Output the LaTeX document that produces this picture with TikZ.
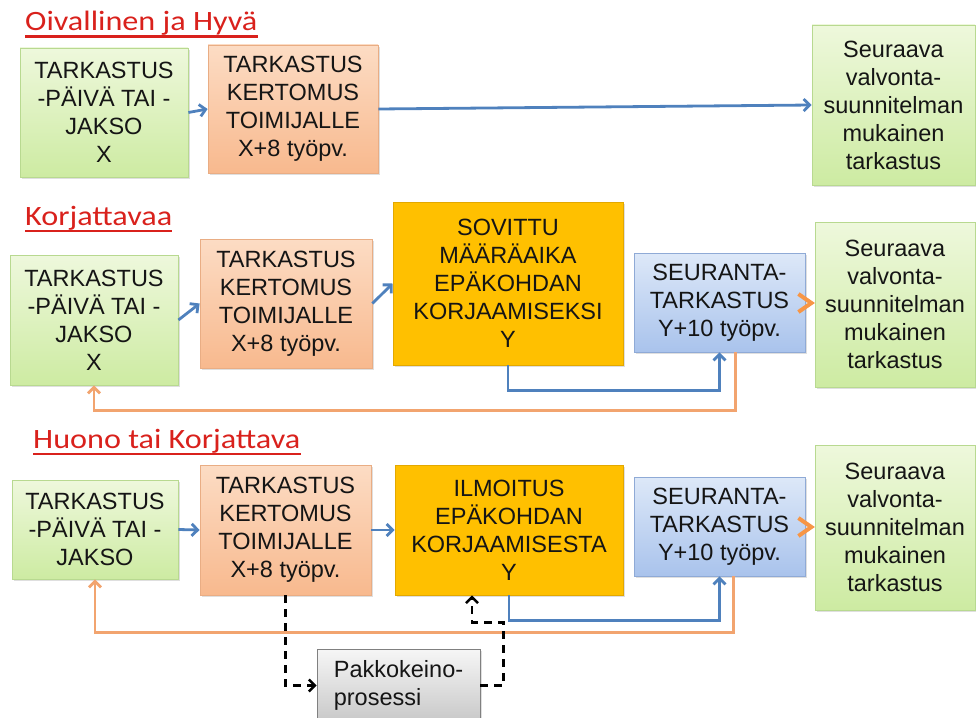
\documentclass[tikz,border=0pt]{standalone}
\usepackage{fontspec}
\setmainfont{Liberation Sans}
\newfontfamily\titlefont[FakeStretch=1.15]{Carlito}
\usetikzlibrary{arrows.meta,shadows,calc}
\definecolor{txt}{HTML}{151515}
\definecolor{titlered}{HTML}{D9211C}
\definecolor{grtop}{HTML}{EEF8DC}
\definecolor{grbot}{HTML}{CDEBA2}
\definecolor{grbord}{HTML}{B8D990}
\definecolor{ortop}{HTML}{FCDCC4}
\definecolor{orbot}{HTML}{F8B98E}
\definecolor{orbord}{HTML}{E9AD84}
\definecolor{gold}{HTML}{FFC000}
\definecolor{goldbord}{HTML}{E3A800}
\definecolor{bltop}{HTML}{DDE8F8}
\definecolor{blbot}{HTML}{A9C3EC}
\definecolor{blbord}{HTML}{8FAAD6}
\definecolor{gytop}{HTML}{F6F6F6}
\definecolor{gybot}{HTML}{C8C8C8}
\definecolor{gybord}{HTML}{808080}
\definecolor{blueline}{HTML}{4F81BD}
\definecolor{orangeline}{HTML}{F2A46F}
\definecolor{chev}{HTML}{F79646}
\tikzset{
  boxbase/.style={rectangle, inner sep=2pt, align=center, text=txt,
    font=\fontsize{23.5}{28}\selectfont, line width=0.8pt,
    drop shadow={opacity=0.25, shadow xshift=2pt, shadow yshift=-2pt}},
  greenbox/.style={boxbase, draw=grbord, top color=grtop, bottom color=grbot},
  orangebox/.style={boxbase, draw=orbord, top color=ortop, bottom color=orbot},
  goldbox/.style={boxbase, draw=goldbord, fill=gold},
  bluebox/.style={boxbase, draw=blbord, top color=bltop, bottom color=blbot},
  graybox/.style={boxbase, draw=gybord, top color=gytop, bottom color=gybot, align=left},
  titletext/.style={anchor=base west, inner sep=0pt, text=titlered,
    font=\titlefont\fontsize{28}{32}\selectfont},
  uline/.style={draw=titlered, line width=2.4pt},
  barrow/.style={draw=blueline, line width=2.8pt, -{Straight Barb[length=6pt,width=12pt]}},
  oarrow/.style={draw=orangeline, line width=2.8pt, -{Straight Barb[length=6pt,width=12pt]}},
  chevron/.style={draw=chev, line width=4pt},
  darrow/.style={draw=black, line width=2.5pt, dash pattern=on 8pt off 6pt,
    -{Straight Barb[length=6pt,width=12pt]}},
}
\begin{document}
\begin{tikzpicture}[x=1pt,y=-1pt]
\useasboundingbox (0,0) rectangle (976,717);
\clip (0,0) rectangle (976,717);

% titles
\node[titletext] (t1) at (25,30.7) {Oivallinen ja Hyvä};
\draw[uline] ([yshift=-6pt]t1.base west) -- ([yshift=-6pt]t1.base east);
\node[titletext] (t2) at (25,225) {Korjattavaa};
\draw[uline] ([yshift=-6pt]t2.base west) -- ([yshift=-6pt]t2.base east);
\node[titletext] (t3) at (33,448) {Huono tai Korjattava};
\draw[uline] ([yshift=-6pt]t3.base west) -- ([yshift=-6pt]t3.base east);

% row 1
\node[greenbox, minimum width=168pt, minimum height=129pt] (A1) at (104,112.5)
  {TARKASTUS\\-PÄIVÄ TAI -\\JAKSO\\X};
\node[orangebox, minimum width=170pt, minimum height=128pt] (B1) at (293,109)
  {TARKASTUS\\KERTOMUS\\TOIMIJALLE\\X+8 työpv.};
\node[greenbox, minimum width=163pt, minimum height=160pt] (C1) at (893.5,105)
  {Seuraava\\valvonta-\\suunnitelman\\mukainen\\tarkastus};
\draw[barrow] (A1.east) -- (B1.west);
\draw[barrow] (B1.east) -- (C1.west);

% row 2
\node[greenbox, minimum width=168pt, minimum height=130pt] (A2) at (94,320)
  {TARKASTUS\\-PÄIVÄ TAI -\\JAKSO\\X};
\node[orangebox, minimum width=172pt, minimum height=129pt] (B2) at (286,303.5)
  {TARKASTUS\\KERTOMUS\\TOIMIJALLE\\X+8 työpv.};
\node[goldbox, minimum width=230pt, minimum height=163pt] (C2) at (508,283.5)
  {SOVITTU\\MÄÄRÄAIKA\\EPÄKOHDAN\\KORJAAMISEKSI\\Y};
\node[bluebox, minimum width=171pt, minimum height=99pt] (D2) at (719.5,302.5)
  {SEURANTA-\\TARKASTUS\\Y+10 työpv.};
\node[greenbox, minimum width=160pt, minimum height=165pt] (E2) at (895,304.5)
  {Seuraava\\valvonta-\\suunnitelman\\mukainen\\tarkastus};
\draw[barrow] (A2.east) -- (B2.west);
\draw[barrow] (B2.east) -- (C2.west);
\draw[chevron] ($(D2.east)+(-7,-8.5)$) -- ($(D2.east)+(6,0.5)$) -- ($(D2.east)+(-7,9.5)$);
\draw[barrow] (C2.south) -- ++(0,25) -| (D2.south);
\draw[oarrow] ([xshift=16pt]D2.south) -- ++(0,58) -| (A2.south);

% row 3
\node[greenbox, minimum width=166pt, minimum height=99pt] (A3) at (95,529.5)
  {TARKASTUS\\-PÄIVÄ TAI -\\JAKSO};
\node[orangebox, minimum width=171pt, minimum height=130pt] (B3) at (285.5,530)
  {TARKASTUS\\KERTOMUS\\TOIMIJALLE\\X+8 työpv.};
\node[goldbox, minimum width=228pt, minimum height=130pt] (C3) at (509,530)
  {ILMOITUS\\EPÄKOHDAN\\KORJAAMISESTA\\Y};
\node[bluebox, minimum width=171pt, minimum height=99pt] (D3) at (719.5,526.5)
  {SEURANTA-\\TARKASTUS\\Y+10 työpv.};
\node[greenbox, minimum width=160pt, minimum height=165pt] (E3) at (895,527.5)
  {Seuraava\\valvonta-\\suunnitelman\\mukainen\\tarkastus};
\node[graybox, minimum width=163pt, minimum height=73pt] (P) at (398.5,685.5)
  {Pakkokeino-\\prosessi};
\draw[barrow] (A3.east) -- (B3.west);
\draw[barrow] (B3.east) -- (C3.west);
\draw[chevron] ($(D3.east)+(-7,-8.5)$) -- ($(D3.east)+(6,0.5)$) -- ($(D3.east)+(-7,9.5)$);
\draw[barrow] (C3.south) -- ++(0,25) -| (D3.south);
\draw[oarrow] ([xshift=14pt]D3.south) -- ++(0,56) -| (A3.south);
\draw[darrow] (B3.south) |- (P.west);
\draw[darrow] (P.east) -- ++(23,0) |- ([xshift=-37pt,yshift=-27pt]C3.south) -- ([xshift=-37pt]C3.south);
\end{tikzpicture}
\end{document}
